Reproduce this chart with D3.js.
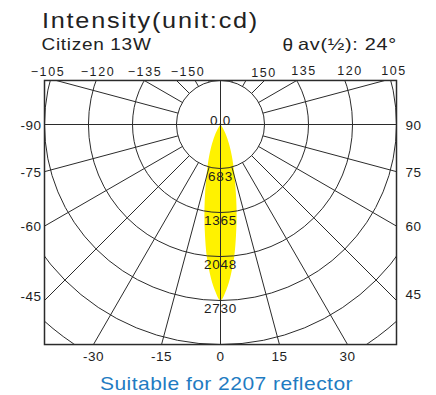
<!DOCTYPE html>
<html>
<head>
<meta charset="utf-8">
<script src="https://cdn.jsdelivr.net/npm/d3@7"></script>
<style>
  body { margin: 0; background: #fff; }
  svg text { font-family: "Liberation Sans", Arial, sans-serif; }
</style>
</head>
<body>
<svg id="chart" width="436" height="395"></svg>
<script>
// Luminous intensity rings (cd)
const ringValues = [683, 1365, 2048, 2730, 3413, 4095];
const ringLabels = ["683", "1365", "2048", "2730"];

// Beam profile: angle from nadir (deg) and intensity (cd), symmetric about 0
const beamAngles = [0, 2, 4, 6, 8, 10, 12, 14, 16, 18, 20, 22, 24, 26, 28, 30, 32, 34, 36];
const beamValues = [2730, 2570, 2330, 2050, 1730, 1440, 1170, 940, 770, 630, 510, 405, 315, 245, 180, 125, 75, 30, 0];

// Spoke directions every 15 deg (0 = straight down, positive = right)
const spokeAngles = [-165, -150, -135, -120, -105, -75, -60, -45, -30, -15,
                     15, 30, 45, 60, 75, 105, 120, 135, 150, 165];

// Angle labels
const topLabelsLeft = ["\u2212105", "\u2212120", "\u2212135", "\u2212150"];
const topLabelsRight = ["150", "135", "120", "105"];
const sideAnglesLeft = [-90, -75, -60, -45];
const sideAnglesRight = [90, 75, 60, 45];
const bottomAngles = [-30, -15, 0, 15, 30];

const titleText = "Intensity(unit:cd)";
const subtitleText = "Citizen 13W";
const halfAngleText = "av(\u00bd): 24\u00b0";
const footerText = "Suitable for 2207 reflector";

// ---- layout ----
const cx = 220.5, cy = 124.5;
const r = d3.scaleLinear().domain([0, 2730]).range([0, 176]);
const toRad = d => d * Math.PI / 180;

const svg = d3.select("#chart");

// plot frame, derived from the ring scale
const frame = {
  left: cx - r(2730), right: cx + r(2730),
  top: cy - r(683), bottom: cy + r(3413)
};

svg.append("defs").append("clipPath").attr("id", "frameClip")
  .append("rect")
  .attr("x", frame.left).attr("y", frame.top)
  .attr("width", frame.right - frame.left)
  .attr("height", frame.bottom - frame.top);

const plot = svg.append("g").attr("clip-path", "url(#frameClip)");

// beam polygon
const beamPts = [];
for (let i = beamAngles.length - 1; i >= 0; i--) beamPts.push([-beamAngles[i], beamValues[i]]);
for (let i = 1; i < beamAngles.length; i++) beamPts.push([beamAngles[i], beamValues[i]]);

const beamLine = d3.lineRadial()
  .angle(d => Math.PI - toRad(d[0]))
  .radius(d => r(d[1]))
  .curve(d3.curveCatmullRom.alpha(0.5));

plot.append("path")
  .attr("transform", `translate(${cx},${cy})`)
  .attr("d", beamLine(beamPts) + "Z")
  .attr("fill", "#fff200")
  .attr("stroke", "none");

// grid rings
const grid = plot.append("g")
  .attr("fill", "none")
  .attr("stroke", "#2b2b2b")
  .attr("stroke-width", 1);

grid.selectAll("circle.ring")
  .data(ringValues)
  .join("circle")
  .attr("class", "ring")
  .attr("cx", cx).attr("cy", cy)
  .attr("r", d => r(d));

// spokes from the first ring outward
const rOuter = r(6000);
grid.selectAll("line.spoke")
  .data(spokeAngles)
  .join("line")
  .attr("class", "spoke")
  .attr("x1", d => cx + r(683) * Math.sin(toRad(d)))
  .attr("y1", d => cy + r(683) * Math.cos(toRad(d)))
  .attr("x2", d => cx + rOuter * Math.sin(toRad(d)))
  .attr("y2", d => cy + rOuter * Math.cos(toRad(d)));

// main axes through the centre
grid.append("line")
  .attr("x1", frame.left).attr("x2", frame.right)
  .attr("y1", cy).attr("y2", cy);
grid.append("line")
  .attr("x1", cx).attr("x2", cx)
  .attr("y1", frame.top).attr("y2", frame.bottom);

// frame border
svg.append("rect")
  .attr("x", frame.left).attr("y", frame.top)
  .attr("width", frame.right - frame.left)
  .attr("height", frame.bottom - frame.top)
  .attr("fill", "none")
  .attr("stroke", "#2b2b2b")
  .attr("stroke-width", 1.5);

// ring value labels
const labelColor = "#1e1e1e";
svg.append("text")
  .attr("x", cx).attr("y", cy)
  .attr("text-anchor", "middle")
  .attr("font-size", 13.5)
  .attr("letter-spacing", 0.8)
  .attr("fill", labelColor)
  .text("0.0");

svg.selectAll("text.ringLabel")
  .data(ringLabels)
  .join("text")
  .attr("class", "ringLabel")
  .attr("x", cx)
  .attr("y", d => cy + r(+d) + 12)
  .attr("text-anchor", "middle")
  .attr("font-size", 13.5)
  .attr("letter-spacing", 0.8)
  .attr("fill", labelColor)
  .text(d => d);

// top angle labels
const topOffsetsLeft = [-172.5, -122.5, -75.5, -32.5];
const topOffsetsRight = [43.5, 83.5, 129.5, 173.5];
svg.selectAll("text.topL")
  .data(topLabelsLeft)
  .join("text")
  .attr("class", "topL")
  .attr("x", (d, i) => cx + topOffsetsLeft[i])
  .attr("y", 75.5)
  .attr("text-anchor", "middle")
  .attr("font-size", 12.5)
  .attr("letter-spacing", 1.6)
  .attr("fill", labelColor)
  .text(d => d);
svg.selectAll("text.topR")
  .data(topLabelsRight)
  .join("text")
  .attr("class", "topR")
  .attr("x", (d, i) => cx + topOffsetsRight[i])
  .attr("y", (d, i) => i === 0 ? 76.5 : 75)
  .attr("text-anchor", "middle")
  .attr("font-size", 12.5)
  .attr("letter-spacing", 1.6)
  .attr("fill", labelColor)
  .text(d => d);

// side angle labels, where the spokes meet the frame edges
const halfW = r(2730);
const sideY = a => cy + halfW * Math.cos(toRad(a)) / Math.abs(Math.sin(toRad(a)));
svg.selectAll("text.sideL")
  .data(sideAnglesLeft)
  .join("text")
  .attr("class", "sideL")
  .attr("x", frame.left - 3)
  .attr("y", d => Math.min(sideY(d), 296) + 5)
  .attr("text-anchor", "end")
  .attr("font-size", 13.5)
  .attr("letter-spacing", 0.5)
  .attr("fill", labelColor)
  .text(d => String(d));
svg.selectAll("text.sideR")
  .data(sideAnglesRight)
  .join("text")
  .attr("class", "sideR")
  .attr("x", frame.right + 9)
  .attr("y", d => Math.min(sideY(d), 294) + 5)
  .attr("text-anchor", "start")
  .attr("font-size", 13.5)
  .attr("letter-spacing", 0.5)
  .attr("fill", labelColor)
  .text(d => String(d));

// bottom angle labels
const depth = frame.bottom - cy;
svg.selectAll("text.bottom")
  .data(bottomAngles)
  .join("text")
  .attr("class", "bottom")
  .attr("x", d => cx + depth * Math.tan(toRad(d)))
  .attr("y", frame.bottom + 16)
  .attr("text-anchor", "middle")
  .attr("font-size", 13.5)
  .attr("letter-spacing", 0.5)
  .attr("fill", labelColor)
  .text(d => String(d));

// titles
svg.append("text")
  .attr("x", 42).attr("y", 27.5)
  .attr("font-size", 21.5)
  .attr("letter-spacing", 1.5)
  .attr("textLength", 217)
  .attr("lengthAdjust", "spacingAndGlyphs")
  .attr("fill", "#222")
  .text(titleText);

svg.append("text")
  .attr("x", 41.5).attr("y", 49.5)
  .attr("font-size", 16.5)
  .attr("letter-spacing", 0.6)
  .attr("textLength", 110)
  .attr("lengthAdjust", "spacingAndGlyphs")
  .attr("fill", "#222")
  .text(subtitleText);

svg.append("text")
  .attr("x", 282.5).attr("y", 50.5)
  .attr("font-family", "'DejaVu Sans', sans-serif")
  .attr("font-weight", 200)
  .attr("font-size", 19)
  .attr("fill", "#222")
  .text("\u03b8");
svg.append("text")
  .attr("x", 298).attr("y", 50)
  .attr("font-size", 16.5)
  .attr("letter-spacing", 0.6)
  .attr("textLength", 99)
  .attr("lengthAdjust", "spacingAndGlyphs")
  .attr("fill", "#222")
  .text(halfAngleText);

svg.append("text")
  .attr("x", 100).attr("y", 390)
  .attr("font-size", 18.5)
  .attr("letter-spacing", 0.4)
  .attr("textLength", 253)
  .attr("lengthAdjust", "spacingAndGlyphs")
  .attr("fill", "#1f7cc2")
  .text(footerText);
</script>
</body>
</html>
